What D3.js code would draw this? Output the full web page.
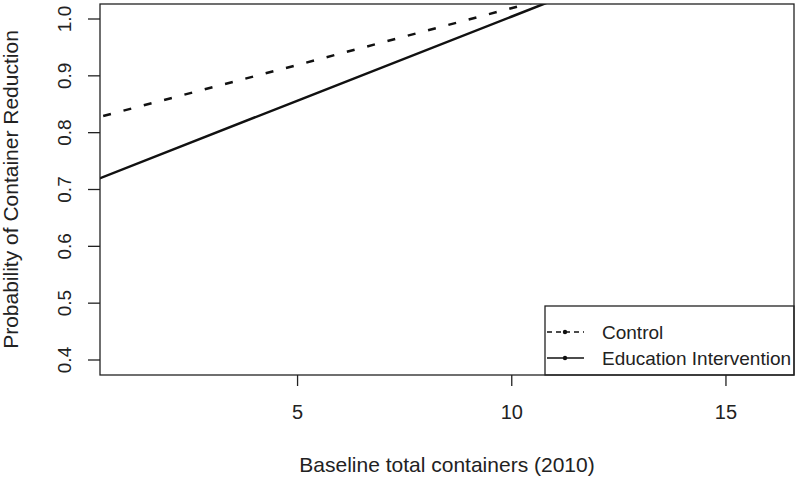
<!DOCTYPE html>
<html>
<head>
<meta charset="utf-8">
<script src="https://cdn.jsdelivr.net/npm/d3@7"></script>
<style>
  body { margin: 0; background: #fff; }
  text { font-family: "Liberation Sans", Arial, sans-serif; fill: #222; }
</style>
</head>
<body>
<div id="chart"></div>
<script>
// baseline containers (x) and predicted probability for each group
const baseline     = [0, 5, 10, 15];
const control      = [0.820, 0.919, 1.019, 1.118];
const intervention = [0.708, 0.856, 1.004, 1.152];

const xTicks = [5, 10, 15];
const yTicks = [0.4, 0.5, 0.6, 0.7, 0.8, 0.9, 1.0];
const legendLabels = ["Control", "Education Intervention"];

const W = 800, H = 479;
const M = { top: 4, right: 6, bottom: 104, left: 100 };
const iW = W - M.left - M.right;
const iH = H - M.top - M.bottom;

const svg = d3.select("#chart").append("svg")
  .attr("width", W).attr("height", H);

const g = svg.append("g").attr("transform", `translate(${M.left},${M.top})`);

const x = d3.scaleLinear().domain([0.4, 16.6]).range([0, iW]);
const y = d3.scaleLinear().domain([0.3736, 1.0264]).range([iH, 0]);

svg.append("defs").append("clipPath").attr("id", "plot-clip")
  .append("rect").attr("width", iW).attr("height", iH);

// axes (R style: detached ticks, no domain line)
const xAxis = g.append("g")
  .attr("transform", `translate(0,${iH})`)
  .call(d3.axisBottom(x).tickValues(xTicks).tickSize(11).tickPadding(19).tickFormat(d3.format("d")));
xAxis.select(".domain").remove();
xAxis.selectAll("line").attr("stroke", "#222").attr("stroke-width", 1.3);
xAxis.selectAll("text").attr("font-size", 20).attr("fill", "#222");

const yAxis = g.append("g")
  .call(d3.axisLeft(y).tickValues(yTicks).tickSize(12).tickFormat(d3.format(".1f")));
yAxis.select(".domain").remove();
yAxis.selectAll("line").attr("stroke", "#222").attr("stroke-width", 1.3);
yAxis.selectAll(".tick").attr("transform", null);
yAxis.selectAll(".tick line").attr("transform", d => `translate(0,${y(d)})`);
yAxis.selectAll("text")
  .attr("font-size", 19).attr("fill", "#222")
  .attr("text-anchor", "middle")
  .attr("transform", d => `translate(-36,${y(d)}) rotate(-90)`)
  .attr("x", 0).attr("y", 0).attr("dy", "0.35em");

// axis titles
svg.append("text")
  .attr("x", M.left + iW / 2).attr("y", 472)
  .attr("text-anchor", "middle").attr("font-size", 21)
  .text("Baseline total containers (2010)");

svg.append("text")
  .attr("transform", `translate(11,${M.top + iH / 2}) rotate(-90)`)
  .attr("text-anchor", "middle").attr("font-size", 21).attr("dy", "0.35em")
  .text("Probability of Container Reduction");

// lines
const line = d3.line().x(d => x(d[0])).y(d => y(d[1]));
const lines = g.append("g").attr("clip-path", "url(#plot-clip)");

lines.append("path")
  .datum(baseline.map((b, i) => [b, control[i]]))
  .attr("d", line).attr("fill", "none")
  .attr("stroke", "#111").attr("stroke-width", 2.5)
  .attr("stroke-dasharray", "8,13");

lines.append("path")
  .datum(baseline.map((b, i) => [b, intervention[i]]))
  .attr("d", line).attr("fill", "none")
  .attr("stroke", "#111").attr("stroke-width", 2.5);

// legend
const lg = g.append("g").attr("transform", `translate(${iW - 249},${iH - 69})`);
lg.append("rect").attr("width", 249).attr("height", 69)
  .attr("fill", "#fff").attr("stroke", "#222").attr("stroke-width", 1.3);
legendLabels.forEach((lab, i) => {
  const row = lg.append("g").attr("transform", `translate(0,${26 + i * 26})`);
  row.append("line").attr("x1", 2).attr("x2", 39)
    .attr("stroke", "#111").attr("stroke-width", 1.5)
    .attr("stroke-dasharray", i === 0 ? "5,4" : null);
  row.append("circle").attr("cx", 20).attr("r", 2.2).attr("fill", "#111");
  row.append("text").attr("x", 57).attr("dy", "0.35em").attr("font-size", 19).text(lab);
});

// plot box
g.append("rect").attr("width", iW).attr("height", iH)
  .attr("fill", "none").attr("stroke", "#222").attr("stroke-width", 1.3);
</script>
</body>
</html>
